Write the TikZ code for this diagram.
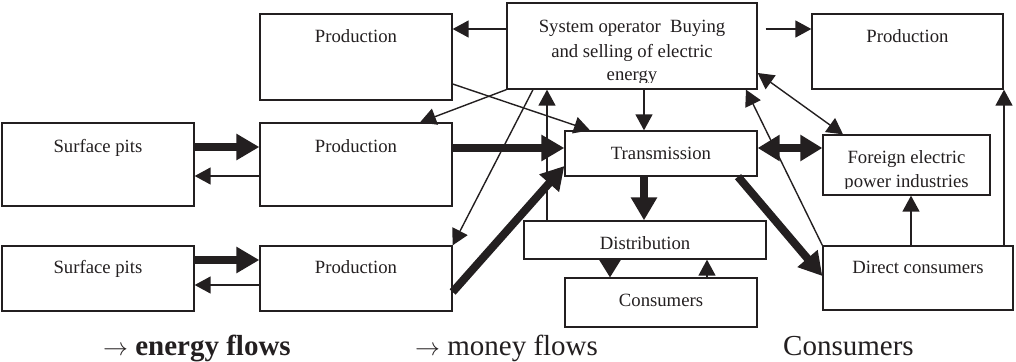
\documentclass[tikz,border=0pt]{standalone}
\usepackage{fontspec}
\setmainfont{Liberation Serif}
\usetikzlibrary{arrows.meta}
\definecolor{ink}{RGB}{35,31,32}
\tikzset{
  box/.style={draw=ink, line width=1.3pt, fill=none, inner sep=0pt},
  lbl/.style={anchor=base, inner sep=0pt, text=ink, font=\fontsize{18.7}{24}\selectfont},
  mflow/.style={draw=ink, line width=1.4pt, -{Triangle[length=16pt,width=17pt]}},
  mboth/.style={draw=ink, line width=1.4pt, {Triangle[length=16pt,width=17pt]}-{Triangle[length=16pt,width=17pt]}},
  eflow/.style={draw=ink, line width=8pt, -{Triangle[length=23pt,width=25pt]}},
  eboth/.style={draw=ink, line width=8pt, {Triangle[length=22pt,width=25pt]}-{Triangle[length=22pt,width=25pt]}},
  dflow/.style={draw=ink, line width=1.4pt, -{Triangle[length=18pt,width=22pt]}},
  legend/.style={anchor=base west, inner sep=0pt, text=ink, font=\fontsize{29}{34}\selectfont}
}
\begin{document}
\begin{tikzpicture}[x=1pt, y=-1pt]
\useasboundingbox (0,0) rectangle (1016,361);

% boxes (centre, width, height)
\node[box, minimum width=192pt, minimum height=86pt] (P1) at (356,57) {};
\node[box, minimum width=250pt, minimum height=86pt] (SO) at (632,46) {};
\node[box, minimum width=191pt, minimum height=75pt] (P2) at (907.5,51.5) {};
\node[box, minimum width=192pt, minimum height=83pt] (S1) at (98,164.5) {};
\node[box, minimum width=192pt, minimum height=83pt] (P3) at (356,164.5) {};
\node[box, minimum width=192pt, minimum height=45pt] (T) at (661,153.5) {};
\node[box, minimum width=167pt, minimum height=60pt] (F) at (906.5,165) {};
\node[box, minimum width=192pt, minimum height=65pt] (S2) at (98,278.5) {};
\node[box, minimum width=192pt, minimum height=65pt] (P4) at (356,278.5) {};
\node[box, minimum width=242pt, minimum height=38pt] (D) at (645,240) {};
\node[box, minimum width=192pt, minimum height=49pt] (C) at (661,302.5) {};
\node[box, minimum width=190pt, minimum height=64pt] (DC) at (918,278) {};

% box texts
\node[lbl] (tP1) at (P1.north |- 0,43) {Production};
\node[lbl] (tP2) at (P2.north |- 0,43) {Production};
\node[lbl] (tS1) at (S1.north |- 0,152) {Surface pits};
\node[lbl] (tP3) at (P3.north |- 0,152) {Production};
\node[lbl] (tT) at (T.north |- 0,159) {Transmission};
\node[lbl] (tS2) at (S2.north |- 0,273) {Surface pits};
\node[lbl] (tP4) at (P4.north |- 0,273) {Production};
\node[lbl] (tD) at (D.north |- 0,249) {Distribution};
\node[lbl] (tC) at (C.north |- 0,306) {Consumers};
\node[lbl] (tDC) at (DC.north |- 0,273) {Direct consumers};
% the text frames are shorter than their boxes, so the last lines are cut
\begin{scope}
  \clip (SO.north west) rectangle (SO.east |- 0,82);
  \node[lbl] (tSO1) at (SO.north |- 0,33) {System operator\ \ Buying};
  \node[lbl] (tSO2) at (SO.north |- 0,57) {and selling of electric};
  \node[lbl] (tSO3) at (SO.north |- 0,81) {energy};
\end{scope}
\begin{scope}
  \clip (F.north west) rectangle (F.east |- 0,188);
  \node[lbl] (tF1) at (F.north |- 0,163) {Foreign electric};
  \node[lbl] (tF2) at (F.north |- 0,187) {power industries};
\end{scope}

% money flows
\draw[mflow] (SO.west |- 0,29) -- (P1.east |- 0,29);
\draw[mflow] ([xshift=8pt]SO.east |- 0,29) -- (P2.west |- 0,29);
\draw[mflow] (SO.south west) -- (420,0 |- P3.north);
\draw[mflow] (P1.east |- 0,84) -- (590,0 |- T.north);
\draw[mflow] (533,0 |- SO.south) -- (P4.north east);
\draw[mflow] (547,0 |- D.north) -- (547,0 |- SO.south);
\draw[mflow] (644,0 |- SO.south) -- (644,0 |- T.north);
\draw[mboth] (SO.east |- 0,73) -- (843,0 |- F.north);
\draw[mflow] (DC.north west) -- (746,0 |- SO.south);
\draw[mflow] (911,0 |- DC.north) -- (911,0 |- F.south);
\draw[mflow] (1004,0 |- DC.north) -- (1004,0 |- P2.south);
\draw[mflow] (707,0 |- C.north) -- (707,0 |- D.south);
\draw[mflow] (P3.west |- 0,176) -- (S1.east |- 0,176);
\draw[mflow] (P4.west |- 0,285) -- (S2.east |- 0,285);

% energy flows
\draw[eflow] (S1.east |- 0,147) -- (P3.west |- 0,147);
\draw[eflow] (S2.east |- 0,260) -- (P4.west |- 0,260);
\draw[eflow] (P3.east |- 0,148) -- (T.west |- 0,148);
\draw[eflow] (P4.east |- 0,292) -- (T.west |- 0,166);
\draw[eflow] (644,0 |- T.south) -- (644,0 |- D.north);
\draw[eflow] (738,0 |- T.south) -- (DC.west |- 0,276);
\draw[eboth] (T.east |- 0,148) -- (F.west |- 0,148);
\draw[dflow] (610,0 |- D.south) -- (610,0 |- C.north);

% legend
\node[legend] (l1) at (103,355) {$\rightarrow$ \textbf{energy flows}};
\node[legend] (l2) at (415,355) {$\rightarrow$ money flows};
\node[legend] (l3) at (783,355) {Consumers};
\end{tikzpicture}
\end{document}
